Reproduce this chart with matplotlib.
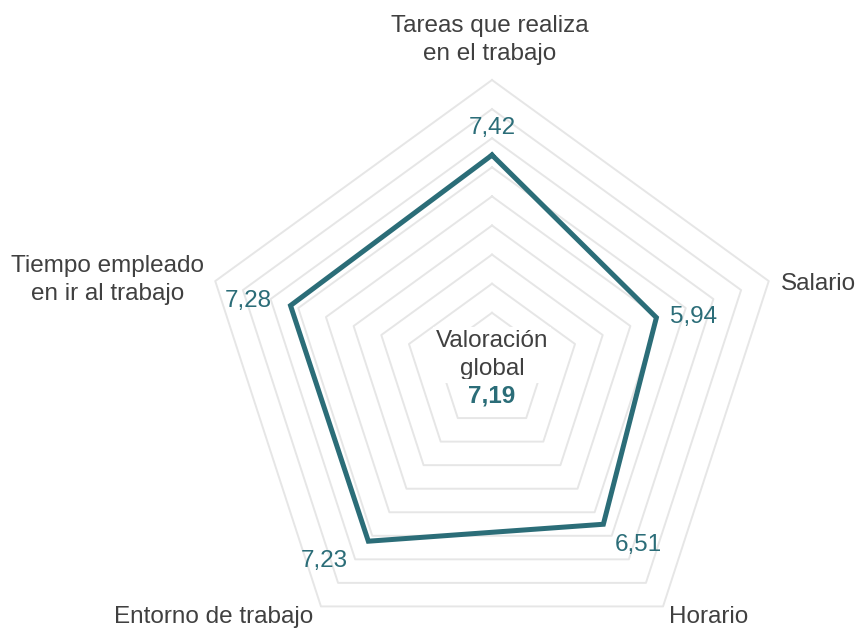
import matplotlib.pyplot as plt
import numpy as np

plt.rcParams['font.family'] = ['Liberation Sans', 'DejaVu Sans']

# data
categories = ["Tareas que realiza\nen el trabajo", "Salario", "Horario",
              "Entorno de trabajo", "Tiempo empleado\nen ir al trabajo"]
values = [7.42, 5.94, 6.51, 7.23, 7.28]
global_value = 7.19
levels = [1, 2, 3, 4, 5, 6, 7, 8, 9, 10]

TEAL = "#2b6d78"
GREY_TXT = "#404040"
GRID = "#e6e6e6"
FS = 17.5

W, H = 857, 628
cx, cy, R = 492, 371, 291

fig = plt.figure(figsize=(W / 100, H / 100), dpi=100)
ax = fig.add_axes([(cx - R) / W, (H - cy - R) / H, 2 * R / W, 2 * R / H],
                  projection="polar")
ax.set_theta_offset(np.pi / 2)
ax.set_theta_direction(-1)
ax.set_ylim(0, 10)
ax.axis("off")

n = len(categories)
theta = np.linspace(0, 2 * np.pi, n, endpoint=False)
theta_c = np.append(theta, theta[0])

# pentagon grid
for lv in levels:
    ax.plot(theta_c, [lv] * (n + 1), color=GRID, lw=1.4, clip_on=False, zorder=1)

vals_c = values + values[:1]
ax.plot(theta_c, vals_c, color=TEAL, lw=3.6, clip_on=False, zorder=3,
        solid_joinstyle="miter")

# value labels (offsets in pixels from vertex)
val_offsets = [((0, 27), "center"), ((14, 1), "left"), ((11, -21), "left"),
               ((-20, -20), "right"), ((-19, 5), "right")]
for t, v, (off, ha) in zip(theta, values, val_offsets):
    ax.annotate(f"{v:.2f}".replace(".", ","), xy=(t, v), xytext=off,
                textcoords="offset pixels", ha=ha, va="center",
                fontsize=FS, color=TEAL, annotation_clip=False, zorder=4)

# category labels
cat_offsets = [((-2, 40), "center"), ((12, -3), "left"), ((6, -11), "left"),
               ((-8, -11), "right"), ((-11, 1), "right")]
for t, lab, (off, ha) in zip(theta, categories, cat_offsets):
    ax.annotate(lab, xy=(t, 10), xytext=off, textcoords="offset pixels",
                ha=ha, va="center", multialignment="center", linespacing=1.35,
                fontsize=FS, color=GREY_TXT, annotation_clip=False)

# centre text
ax.annotate("Valoración\nglobal", xy=(0, 0), xytext=(0, 16),
            textcoords="offset pixels", ha="center", va="center",
            fontsize=FS, color=GREY_TXT, linespacing=1.35,
            bbox=dict(facecolor="white", edgecolor="none", pad=2), zorder=5)
ax.annotate(f"{global_value:.2f}".replace(".", ","), xy=(0, 0), xytext=(0, -25),
            textcoords="offset pixels", ha="center", va="center",
            fontsize=FS, color=TEAL, fontweight="bold",
            bbox=dict(facecolor="white", edgecolor="none", pad=4), zorder=5)

fig.savefig("out.png", dpi=100)
